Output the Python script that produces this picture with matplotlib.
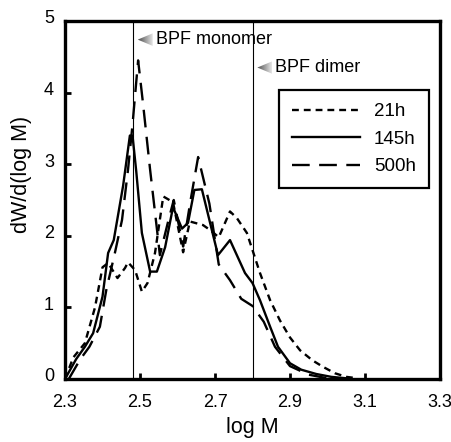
import numpy as np
import matplotlib
matplotlib.use("Agg")
import matplotlib.pyplot as plt
from matplotlib.patches import Polygon
from matplotlib.transforms import ScaledTranslation

plt.rcParams['font.family'] = ['Liberation Sans', 'DejaVu Sans']

# ---- data ----
x_21h = [2.30, 2.322, 2.353, 2.38, 2.40, 2.415, 2.44, 2.46, 2.468, 2.487, 2.505,
         2.52, 2.54, 2.562, 2.588, 2.615, 2.633, 2.668, 2.687, 2.71, 2.74, 2.758,
         2.785, 2.80, 2.82, 2.847, 2.873, 2.90, 2.927, 2.96, 2.988, 3.02, 3.05, 3.08]
y_21h = [0.0, 0.30, 0.50, 1.00, 1.56, 1.62, 1.41, 1.55, 1.63, 1.52, 1.22,
         1.34, 1.76, 2.55, 2.47, 1.77, 2.20, 2.15, 2.08, 1.98, 2.34, 2.25,
         2.04, 1.80, 1.48, 1.10, 0.82, 0.58, 0.40, 0.26, 0.17, 0.08, 0.03, 0.01]

x_145h = [2.30, 2.33, 2.353, 2.375, 2.40, 2.415, 2.43, 2.455, 2.473, 2.48, 2.49,
          2.505, 2.527, 2.545, 2.567, 2.588, 2.612, 2.628, 2.645, 2.665, 2.708,
          2.74, 2.78, 2.80, 2.82, 2.847, 2.868, 2.90, 2.93, 2.97, 3.01, 3.05]
y_145h = [0.0, 0.28, 0.45, 0.64, 1.15, 1.76, 1.94, 2.70, 3.40, 3.40, 2.90,
          2.04, 1.50, 1.50, 1.84, 2.40, 2.10, 2.18, 2.64, 2.65, 1.73,
          1.94, 1.48, 1.34, 1.10, 0.73, 0.45, 0.22, 0.13, 0.07, 0.03, 0.01]

x_500h = [2.31, 2.34, 2.365, 2.393, 2.41, 2.433, 2.452, 2.468, 2.48, 2.495, 2.508,
          2.527, 2.545, 2.553, 2.575, 2.59, 2.615, 2.635, 2.655, 2.685, 2.71,
          2.74, 2.77, 2.80, 2.83, 2.86, 2.90, 2.95, 3.00]
y_500h = [0.0, 0.27, 0.45, 0.73, 1.24, 1.76, 2.22, 2.92, 3.55, 4.45, 3.85,
          2.92, 2.10, 1.73, 2.20, 2.50, 1.85, 2.50, 3.10, 2.45, 1.60,
          1.38, 1.12, 1.02, 0.80, 0.45, 0.18, 0.06, 0.01]

x_ticks = [2.3, 2.5, 2.7, 2.9, 3.1, 3.3]
x_ticklabels = ['2.3', '2.5', '2.7', '2.9', '3.1', '3.3']
y_ticks = [0, 1, 2, 3, 4, 5]
markers_x = [2.481, 2.80]  # BPF monomer, BPF dimer
marker_labels = ['BPF monomer', 'BPF dimer']
marker_y = [4.74, 4.35]

W, H = 452, 442
fig = plt.figure(figsize=(W / 100, H / 100), dpi=100)
ax = fig.add_axes([65 / W, 1 - 379 / H, 375 / W, 358 / H])

lw = 1.7
ax.plot(x_21h, y_21h, color='black', lw=lw, dashes=(2.9, 2.1), label='21h')
ax.plot(x_145h, y_145h, color='black', lw=lw, label='145h')
ax.plot(x_500h, y_500h, color='black', lw=lw, dashes=(7.5, 4.0), label='500h')

for xv in markers_x:
    ax.axvline(xv, color='black', lw=0.8)

# gradient arrow heads + labels
grad = np.linspace(0.3, 0.9, 64).reshape(1, -1)
for xv, lab, yv in zip(markers_x, marker_labels, marker_y):
    x0 = xv + 0.013
    x1 = x0 + 0.040
    h = 0.088
    poly = Polygon([[x0, yv], [x1, yv + h], [x1, yv - h]], closed=True,
                   facecolor='none', edgecolor='none')
    ax.add_patch(poly)
    im = ax.imshow(grad, cmap='gray', vmin=0, vmax=1, aspect='auto',
                   extent=[x0, x1, yv - h, yv + h], zorder=3, interpolation='bilinear')
    im.set_clip_path(poly)
    ax.text(x1 + 0.008, yv, lab, fontsize=13, va='center', ha='left')

ax.set_xlim(2.3, 3.3)
ax.set_ylim(0, 5)
ax.set_xticks(x_ticks)
ax.set_xticklabels(x_ticklabels)
ax.set_yticks(y_ticks)
ax.tick_params(direction='in', length=4, width=2, labelsize=13)
ax.tick_params(axis='x', pad=11)
ax.tick_params(axis='y', pad=8)
for s in ax.spines.values():
    s.set_linewidth(2.4)
for lab in ax.get_yticklabels():
    lab.set_transform(lab.get_transform() + ScaledTranslation(0, 3 / 72, fig.dpi_scale_trans))

ax.set_xlabel('log M', fontsize=15.5, labelpad=4)
fig.text(22 / W, 1 - 174 / H, 'dW/d(log M)', rotation=90, fontsize=15.5,
         ha='center', va='center')

leg = ax.legend(loc='upper left', bbox_to_anchor=(0.571, 0.807), fontsize=13.5,
                handlelength=3.6, handletextpad=0.75, labelspacing=0.55,
                borderpad=0.7, borderaxespad=0, fancybox=False, framealpha=1,
                edgecolor='black')
leg.get_frame().set_linewidth(1.6)

fig.savefig('out.png', dpi=100)
